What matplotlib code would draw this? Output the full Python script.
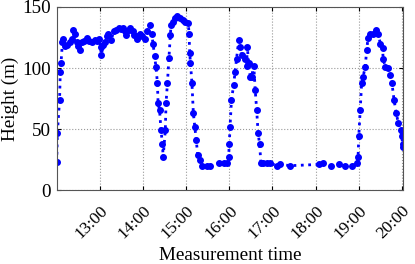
import matplotlib.pyplot as plt
import matplotlib.dates as mdates
import pandas as pd

# measurement times (HH:MM) and heights (m)
times = ['12:00', '12:01', '12:04', '12:05', '12:06', '12:08', '12:09', '12:11', '12:14', '12:18',
         '12:21', '12:23', '12:25', '12:28', '12:30', '12:32', '12:35', '12:38', '12:42', '12:45',
         '12:49', '12:53', '12:56', '12:59', '13:01', '13:02', '13:05', '13:07', '13:10', '13:12',
         '13:16', '13:19', '13:22', '13:26', '13:29', '13:32', '13:35', '13:37', '13:40', '13:42',
         '13:46', '13:48', '13:51', '13:53', '13:56', '13:59', '14:03', '14:06', '14:10', '14:12',
         '14:14', '14:16', '14:18', '14:20', '14:21', '14:23', '14:25', '14:27', '14:28', '14:31',
         '14:32', '14:34', '14:36', '14:38', '14:39', '14:42', '14:45', '14:47', '14:51', '14:55',
         '14:58', '15:03', '15:04', '15:05', '15:06', '15:08', '15:10', '15:12', '15:14', '15:16',
         '15:19', '15:22', '15:29', '15:33', '15:45', '15:52', '15:57', '15:59', '16:00', '16:01',
         '16:03', '16:06', '16:08', '16:10', '16:13', '16:15', '16:17', '16:22', '16:24', '16:25',
         '16:27', '16:29', '16:31', '16:34', '16:36', '16:38', '16:40', '16:42', '16:44', '16:47',
         '16:52', '16:57', '17:06', '17:11', '17:25', '18:04', '18:10', '18:22', '18:32', '18:41',
         '18:50', '18:58', '18:59', '19:00', '19:02', '19:04', '19:06', '19:09', '19:11', '19:13',
         '19:16', '19:20', '19:24', '19:27', '19:30', '19:33', '19:34', '19:37', '19:41', '19:44',
         '19:46', '19:49', '19:52', '19:55', '19:58', '20:00', '20:01', '20:01']
heights = [23, 47, 74, 97, 104, 121, 124, 118, 119, 121,
           124, 131, 128, 121, 118, 115, 121, 122, 125, 122,
           121, 123, 122, 124, 117, 111, 119, 121, 126, 128,
           123, 130, 131, 133, 132, 133, 130, 127, 131, 133,
           130, 127, 124, 126, 128, 126, 124, 130, 135, 128,
           120, 110, 101, 88, 71, 66, 49, 38, 27, 49,
           71, 88, 108, 127, 135, 138, 141, 143, 141, 139,
           138, 137, 128, 112, 104, 88, 63, 52, 41, 29,
           25, 20, 20, 20, 22, 22, 22, 27, 38, 52,
           74, 86, 97, 107, 123, 117, 111, 107, 102, 117,
           104, 93, 93, 102, 82, 66, 47, 38, 22, 22,
           22, 22, 20, 21, 20, 21, 22, 20, 21, 20,
           20, 22, 27, 44, 66, 88, 93, 101, 115, 125,
           128, 128, 131, 128, 120, 116, 107, 101, 100, 94,
           88, 74, 63, 55, 49, 44, 35, 38]

t = pd.to_datetime(['2020-01-01 ' + s for s in times])

plt.rcParams['font.family'] = ['Liberation Serif', 'DejaVu Serif']
plt.rcParams['font.size'] = 13.8

fig = plt.figure(figsize=(4.15, 2.64), dpi=100)
ax = fig.add_axes([0.1366, 0.28, 0.8354, 0.6935])

ax.plot(t, heights, color='#0000ff', linestyle=':', linewidth=2,
        marker='o', markersize=4)

ax.set_ylim(0, 150)
ax.set_yticks([0, 50, 100, 150])
ax.set_xlim(pd.Timestamp('2020-01-01 12:00'), pd.Timestamp('2020-01-01 20:02'))
ax.xaxis.set_major_locator(mdates.HourLocator(byhour=range(13, 21)))
ax.xaxis.set_major_formatter(mdates.DateFormatter('%H:%M'))
plt.setp(ax.get_xticklabels(), rotation=45, ha='right', rotation_mode='anchor',
         fontsize=12.5)

ax.grid(True, linestyle=':', color='#999999', linewidth=0.8)
ax.tick_params(direction='in', top=True, right=True, length=3, pad=4)
ax.tick_params(axis='x', pad=9)
for sp in ax.spines.values():
    sp.set_color('#555555')

ax.set_xlabel('Measurement time', labelpad=4)
ax.set_ylabel('Height (m)')
ax.yaxis.set_label_coords(-0.11, 0.5)

fig.savefig('out.png', dpi=100)
